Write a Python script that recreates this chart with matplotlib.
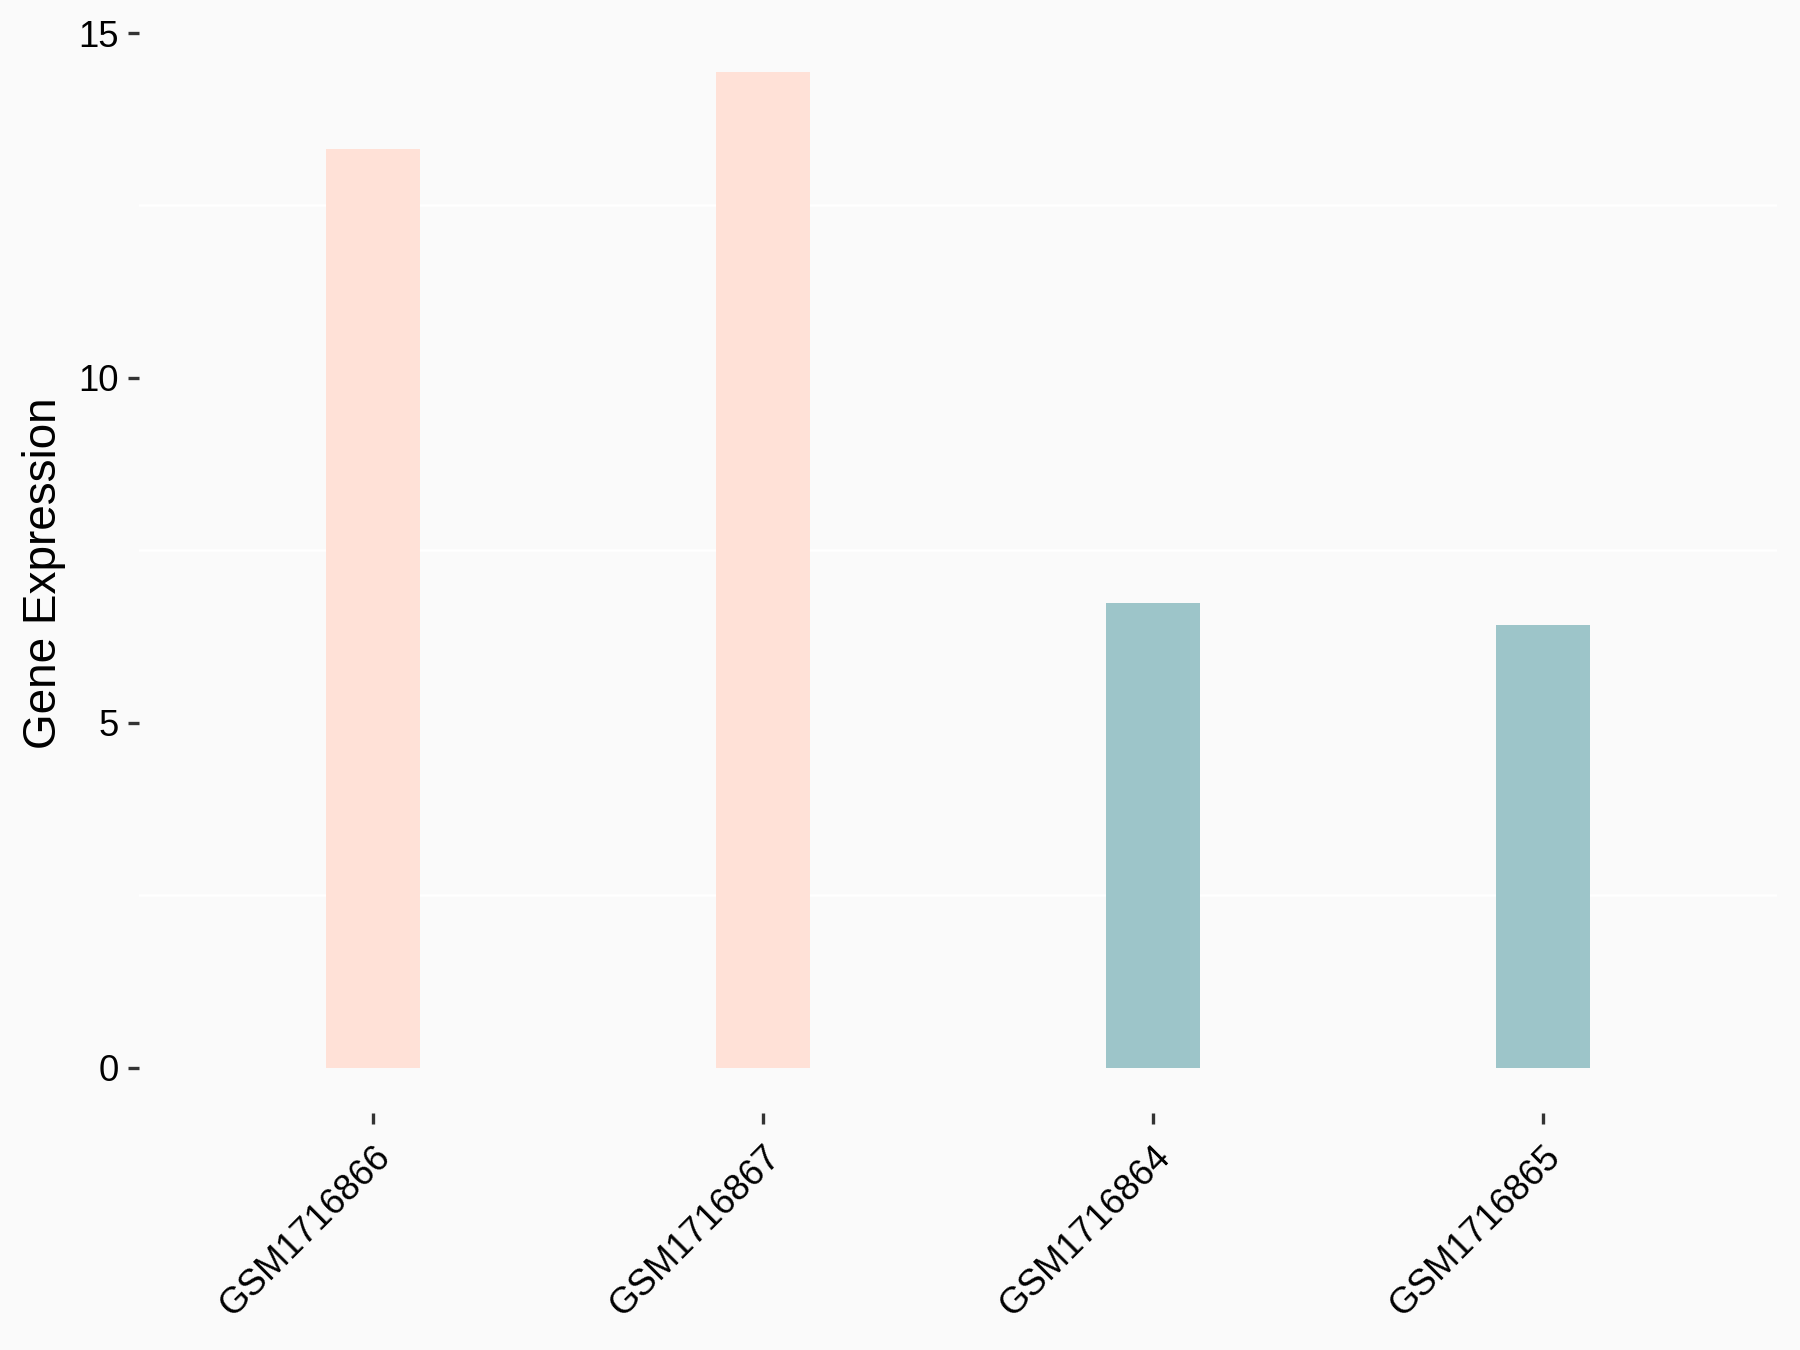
"""Gene expression bar chart"""
import matplotlib
matplotlib.use("Agg")
import matplotlib.pyplot as plt

samples = ["GSM1716866", "GSM1716867", "GSM1716864", "GSM1716865"]
expression = [13.32, 14.43, 6.73, 6.41]
groups = ["a", "a", "b", "b"]
group_colors = {"a": "#FFE1D7", "b": "#9DC5C9"}
y_ticks = [0, 5, 10, 15]
y_minor = [2.5, 7.5, 12.5]

plt.rcParams["font.family"] = ["Liberation Sans", "DejaVu Sans"]
bg = "#FAFAFA"

fig = plt.figure(figsize=(12, 9), dpi=150, facecolor=bg)
ax = fig.add_axes([0.0772, 0.1755, 0.9100, 0.8000])
ax.set_facecolor(bg)

pos = list(range(1, len(samples) + 1))
ax.bar(pos, expression, width=0.24, color=[group_colors[g] for g in groups], zorder=2)

ax.set_xlim(0.4, 4.6)
ax.set_ylim(-0.66, 15.0)
ax.set_yticks(y_ticks)
ax.set_yticks(y_minor, minor=True)
ax.set_xticks(pos)
ax.set_xticklabels(samples, rotation=45, ha="right", va="top", rotation_mode="anchor")

ax.grid(which="minor", axis="y", color="white", linewidth=1.2, zorder=1)
ax.tick_params(axis="y", which="minor", length=0)
ax.tick_params(axis="both", which="major", length=5.5, width=1.6, color="#333333",
               labelsize=17.5, labelcolor="black", pad=4)
ax.tick_params(axis="x", which="major", pad=7)
for s in ax.spines.values():
    s.set_visible(False)

ax.set_ylabel("Gene Expression", fontsize=22, labelpad=6)

fig.savefig("out.png", dpi=150, facecolor=bg)
